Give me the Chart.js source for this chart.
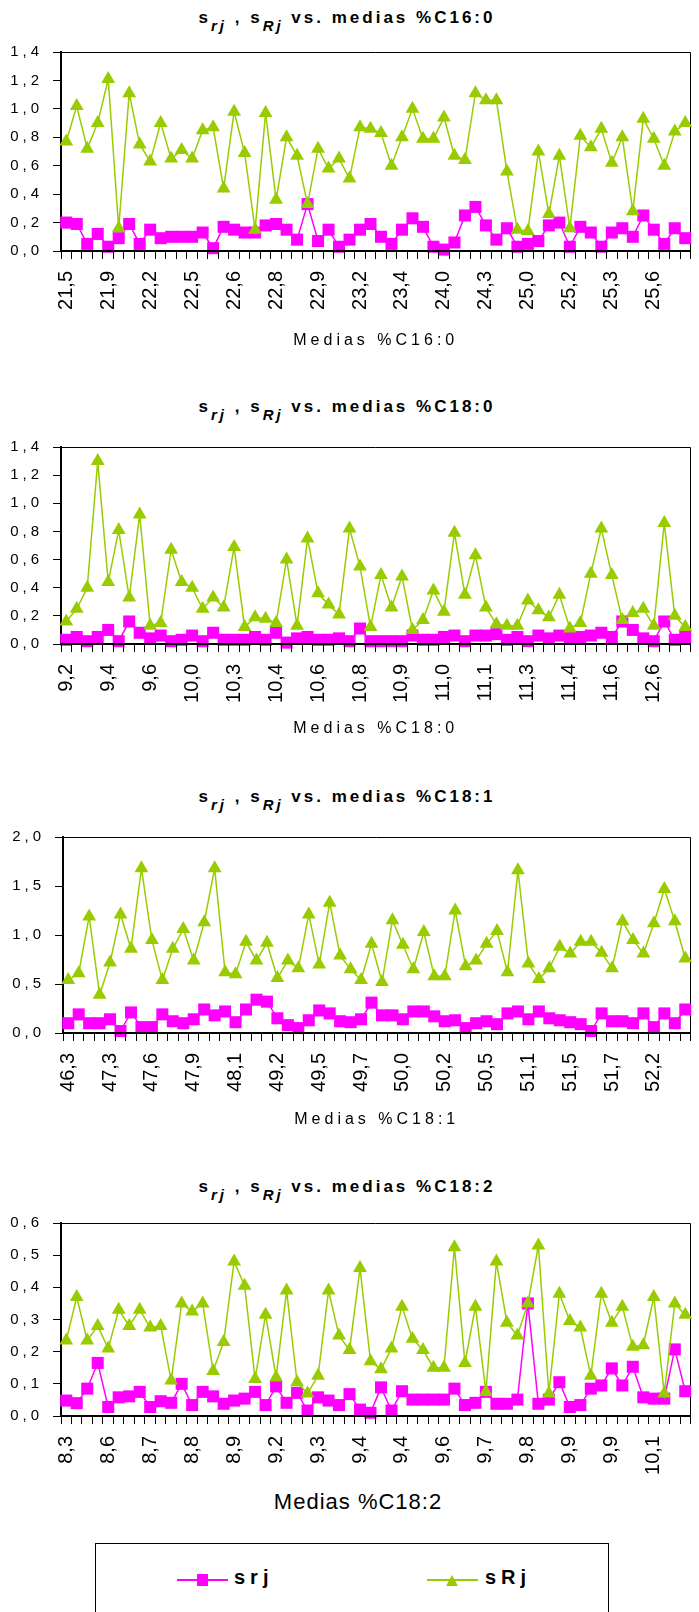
<!DOCTYPE html>
<html>
<head>
<meta charset="utf-8">
<script src="https://cdn.jsdelivr.net/npm/chart.js"></script>
<style>
  body { margin: 0; background: #fff; }
  #page { position: relative; width: 699px; height: 1612px; overflow: hidden; font-family: 'Liberation Sans', Arial, sans-serif; color: #000; }
  canvas { position: absolute; left: 0; }
  .ttl { position: absolute; left: 0; width: 694px; text-align: center; font-weight: bold; font-size: 17px; letter-spacing: 3px; line-height: 20px; white-space: nowrap; }
  .ttl i { position: relative; top: 8px; font-size: 15px; }
  #xt4 { position: absolute; left: 0; width: 716px; top: 1489px; text-align: center; font-size: 22px; letter-spacing: 1px; line-height: 26px; }
  #legend { position: absolute; left: 95px; top: 1543px; width: 512px; height: 120px; border: 1.5px solid #000; }
  .lline { position: absolute; height: 2px; width: 51px; top: 1579px; }
  .ltxt { position: absolute; top: 1565px; font-weight: bold; font-size: 20px; letter-spacing: 5px; line-height: 24px; }
</style>
</head>
<body>
<div id="page">
  <div class="ttl" style="top:8px">s<i>rj</i> , s<i>Rj</i> vs. medias %C16:0</div>
  <canvas id="c16" width="699" height="310" style="top:40px"></canvas>

  <div class="ttl" style="top:397px">s<i>rj</i> , s<i>Rj</i> vs. medias %C18:0</div>
  <canvas id="c180" width="699" height="308" style="top:430px"></canvas>

  <div class="ttl" style="top:787px">s<i>rj</i> , s<i>Rj</i> vs. medias %C18:1</div>
  <canvas id="c181" width="699" height="309" style="top:820px"></canvas>

  <div class="ttl" style="top:1177px">s<i>rj</i> , s<i>Rj</i> vs. medias %C18:2</div>
  <canvas id="c182" width="699" height="275" style="top:1205px"></canvas>
  <div id="xt4">Medias %C18:2</div>

  <div id="legend"></div>
  <div class="lline" style="left:177px;background:#ff00ff"></div>
  <div style="position:absolute;left:197px;top:1574px;width:11px;height:12px;background:#ff00ff"></div>
  <div class="ltxt" style="left:234px">srj</div>
  <div class="lline" style="left:427px;background:#99cc00"></div>
  <div style="position:absolute;left:446px;top:1575px;width:0;height:0;border-left:6px solid transparent;border-right:6px solid transparent;border-bottom:11px solid #99cc00"></div>
  <div class="ltxt" style="left:485px">sRj</div>
</div>

<script>
// %C16:0
const ticks16 = ['21,5', '21,9', '22,2', '22,5', '22,6', '22,8', '22,9', '23,2', '23,4', '24,0', '24,3', '25,0', '25,2', '25,3', '25,6'];
const srj16 = [0.20, 0.19, 0.05, 0.12, 0.03, 0.09, 0.19, 0.05, 0.15, 0.09, 0.10, 0.10, 0.10, 0.13, 0.02, 0.17, 0.15, 0.13, 0.13, 0.18,
               0.19, 0.15, 0.08, 0.33, 0.07, 0.15, 0.03, 0.08, 0.15, 0.19, 0.10, 0.05, 0.15, 0.23, 0.17, 0.03, 0.01, 0.06, 0.25, 0.31,
               0.18, 0.08, 0.16, 0.03, 0.05, 0.07, 0.18, 0.20, 0.03, 0.17, 0.13, 0.03, 0.13, 0.16, 0.10, 0.25, 0.15, 0.05, 0.16, 0.09];
const sRj16 = [0.77, 1.02, 0.72, 0.90, 1.21, 0.16, 1.11, 0.75, 0.63, 0.90, 0.65, 0.71, 0.65, 0.85, 0.87, 0.44, 0.98, 0.69, 0.15, 0.97,
               0.36, 0.80, 0.67, 0.33, 0.72, 0.58, 0.65, 0.51, 0.87, 0.86, 0.83, 0.60, 0.80, 1.00, 0.79, 0.79, 0.94, 0.67, 0.64, 1.11,
               1.06, 1.06, 0.56, 0.15, 0.14, 0.70, 0.26, 0.67, 0.16, 0.81, 0.73, 0.86, 0.62, 0.80, 0.28, 0.93, 0.79, 0.60, 0.84, 0.90];

// %C18:0
const ticks180 = ['9,2', '9,4', '9,6', '10,0', '10,3', '10,4', '10,6', '10,8', '10,9', '11,0', '11,1', '11,3', '11,4', '11,6', '12,6'];
const srj180 = [0.03, 0.05, 0.02, 0.05, 0.10, 0.02, 0.16, 0.08, 0.04, 0.06, 0.02, 0.03, 0.06, 0.02, 0.08, 0.03, 0.03, 0.03, 0.05, 0.03,
                0.08, 0.01, 0.04, 0.05, 0.03, 0.03, 0.04, 0.02, 0.11, 0.02, 0.02, 0.02, 0.02, 0.06, 0.03, 0.03, 0.05, 0.06, 0.02, 0.06,
                0.06, 0.07, 0.03, 0.05, 0.02, 0.06, 0.04, 0.06, 0.05, 0.05, 0.06, 0.08, 0.05, 0.16, 0.10, 0.04, 0.02, 0.16, 0.03, 0.05];
const sRj180 = [0.16, 0.25, 0.40, 1.30, 0.44, 0.81, 0.33, 0.92, 0.13, 0.15, 0.67, 0.44, 0.40, 0.25, 0.33, 0.26, 0.69, 0.12, 0.19, 0.18,
                0.15, 0.60, 0.13, 0.75, 0.36, 0.28, 0.21, 0.82, 0.55, 0.12, 0.49, 0.26, 0.48, 0.10, 0.17, 0.38, 0.23, 0.79, 0.35, 0.63,
                0.26, 0.14, 0.13, 0.13, 0.31, 0.24, 0.19, 0.35, 0.11, 0.15, 0.50, 0.82, 0.49, 0.17, 0.22, 0.25, 0.13, 0.86, 0.20, 0.12];

// %C18:1
const ticks181 = ['46,3', '47,3', '47,6', '47,9', '48,1', '49,2', '49,5', '49,7', '50,0', '50,2', '50,5', '51,1', '51,5', '51,7', '52,2'];
const srj181 = [0.10, 0.19, 0.10, 0.10, 0.14, 0.02, 0.21, 0.06, 0.06, 0.19, 0.12, 0.10, 0.14, 0.24, 0.18, 0.22, 0.11, 0.24, 0.34, 0.32,
                0.15, 0.08, 0.05, 0.13, 0.23, 0.20, 0.12, 0.11, 0.14, 0.31, 0.18, 0.18, 0.14, 0.22, 0.22, 0.17, 0.12, 0.13, 0.05, 0.10,
                0.12, 0.09, 0.20, 0.22, 0.14, 0.22, 0.15, 0.13, 0.11, 0.09, 0.02, 0.20, 0.12, 0.12, 0.10, 0.20, 0.06, 0.20, 0.10, 0.24];
const sRj181 = [0.54, 0.61, 1.19, 0.39, 0.72, 1.21, 0.86, 1.68, 0.95, 0.54, 0.86, 1.06, 0.74, 1.13, 1.68, 0.62, 0.60, 0.93, 0.74, 0.92,
                0.56, 0.74, 0.66, 1.21, 0.70, 1.33, 0.79, 0.65, 0.54, 0.91, 0.52, 1.15, 0.90, 0.65, 1.03, 0.58, 0.58, 1.25, 0.68, 0.74,
                0.91, 1.04, 0.62, 1.66, 0.71, 0.55, 0.66, 0.88, 0.81, 0.93, 0.93, 0.82, 0.66, 1.14, 0.95, 0.81, 1.12, 1.47, 1.14, 0.76];

// %C18:2
const ticks182 = ['8,3', '8,6', '8,7', '8,8', '8,9', '9,2', '9,3', '9,4', '9,4', '9,6', '9,7', '9,8', '9,9', '9,9', '10,1'];
const srj182 = [0.048, 0.040, 0.085, 0.165, 0.028, 0.058, 0.061, 0.075, 0.028, 0.046, 0.041, 0.100, 0.034, 0.075, 0.061, 0.038, 0.048, 0.054, 0.075, 0.034,
                0.092, 0.041, 0.072, 0.017, 0.058, 0.048, 0.034, 0.068, 0.020, 0.010, 0.089, 0.017, 0.077, 0.051, 0.051, 0.051, 0.051, 0.085, 0.034, 0.041,
                0.075, 0.038, 0.038, 0.051, 0.350, 0.038, 0.051, 0.105, 0.028, 0.034, 0.085, 0.095, 0.148, 0.095, 0.153, 0.058, 0.054, 0.054, 0.207, 0.077];
const sRj182 = [0.235, 0.370, 0.235, 0.280, 0.210, 0.330, 0.280, 0.330, 0.275, 0.280, 0.110, 0.350, 0.325, 0.350, 0.140, 0.230, 0.480, 0.405, 0.115, 0.315,
                0.120, 0.390, 0.105, 0.070, 0.125, 0.390, 0.250, 0.205, 0.460, 0.170, 0.145, 0.210, 0.340, 0.240, 0.205, 0.150, 0.150, 0.525, 0.165, 0.340,
                0.075, 0.480, 0.290, 0.250, 0.350, 0.530, 0.070, 0.380, 0.295, 0.275, 0.125, 0.380, 0.290, 0.340, 0.215, 0.220, 0.370, 0.070, 0.350, 0.315];

const FONT = "'Liberation Sans', Arial, sans-serif";
const PINK = '#ff00ff';
const GREEN = '#99cc00';

// top/right edge of the plot box; also turns on letter spacing for the
// layers drawn after the datasets (y tick labels, x axis title)
const frame = {
    id: 'frame',
    beforeDraw(chart) { chart.ctx.letterSpacing = '0px'; },
    beforeDatasetsDraw(chart) {
        const { ctx, chartArea: a } = chart;
        const top = Math.round(a.top) + 0.5;
        const right = Math.round(a.right) - 0.5;
        ctx.save();
        ctx.strokeStyle = '#000';
        ctx.lineWidth = 1;
        ctx.beginPath();
        ctx.moveTo(a.left, top);
        ctx.lineTo(right, top);
        ctx.lineTo(right, a.bottom);
        ctx.stroke();
        ctx.restore();
    },
    afterDatasetsDraw(chart) { chart.ctx.letterSpacing = '4px'; },
    afterDraw(chart) { chart.ctx.letterSpacing = '0px'; }
};

function drawChart(id, ticks, srj, sRj, yMax, yStep, box, axisTitle) {
    // one category per point, a label on every 4th one
    const labels = srj.map((v, i) => (i % 4 === 0 ? ticks[i / 4] : ''));
    return new Chart(document.getElementById(id), {
        type: 'line',
        data: {
            labels: labels,
            datasets: [
                {
                    label: 'srj', data: srj, order: 2, clip: false,
                    borderColor: PINK, backgroundColor: PINK, borderWidth: 1.5,
                    pointStyle: 'rect', pointRadius: 8.5, pointBorderWidth: 0,
                    pointBackgroundColor: PINK
                },
                {
                    label: 'sRj', data: sRj, order: 1, clip: false,
                    borderColor: GREEN, backgroundColor: GREEN, borderWidth: 1.5,
                    pointStyle: 'triangle', pointRadius: 8, pointBorderWidth: 0,
                    pointBackgroundColor: GREEN
                }
            ]
        },
        options: {
            responsive: false,
            animation: false,
            layout: { padding: { top: box.padTop, right: box.padRight, bottom: 0, left: 0 } },
            elements: { line: { tension: 0 } },
            plugins: { legend: { display: false }, tooltip: { enabled: false } },
            scales: {
                x: {
                    offset: true,
                    // grid (tick marks + title) and border both after the datasets,
                    // grid first so the border position is known when it is drawn
                    grid: { offset: true, drawOnChartArea: false, tickLength: 8, color: '#000', z: 1 },
                    border: { color: '#000', width: 2, z: 1 },
                    ticks: {
                        autoSkip: false, minRotation: 90, maxRotation: 90, padding: 12,
                        color: '#000', font: { family: FONT, size: 20 }
                    },
                    title: {
                        display: !!axisTitle, text: axisTitle, color: '#000',
                        font: { family: FONT, size: 16 }, padding: 0
                    },
                    afterFit: s => { s.height = box.xHeight; s.paddingLeft = 0; s.paddingRight = 0; }
                },
                y: {
                    min: 0,
                    max: yMax,
                    grid: { drawOnChartArea: false, tickLength: 8, color: '#000' },
                    border: { color: '#000', width: 2 },
                    ticks: {
                        stepSize: yStep, padding: 10, z: 1, color: '#000',
                        font: { family: FONT, size: 15 },
                        callback: v => v.toFixed(1).replace('.', ',')
                    },
                    afterFit: s => { s.width = box.yWidth; s.paddingTop = 0; s.paddingBottom = 0; }
                }
            }
        },
        plugins: [frame]
    });
}

drawChart('c16', ticks16, srj16, sRj16, 1.4, 0.2, { padTop: 12, padRight: 8, yWidth: 61, xHeight: 99 }, 'Medias %C16:0');
drawChart('c180', ticks180, srj180, sRj180, 1.4, 0.2, { padTop: 17, padRight: 7, yWidth: 61, xHeight: 94 }, 'Medias %C18:0');
drawChart('c181', ticks181, srj181, sRj181, 2.0, 0.5, { padTop: 17, padRight: 4, yWidth: 63, xHeight: 96 }, 'Medias %C18:1');
drawChart('c182', ticks182, srj182, sRj182, 0.6, 0.1, { padTop: 18, padRight: 4, yWidth: 61, xHeight: 64 }, '');
</script>
</body>
</html>
